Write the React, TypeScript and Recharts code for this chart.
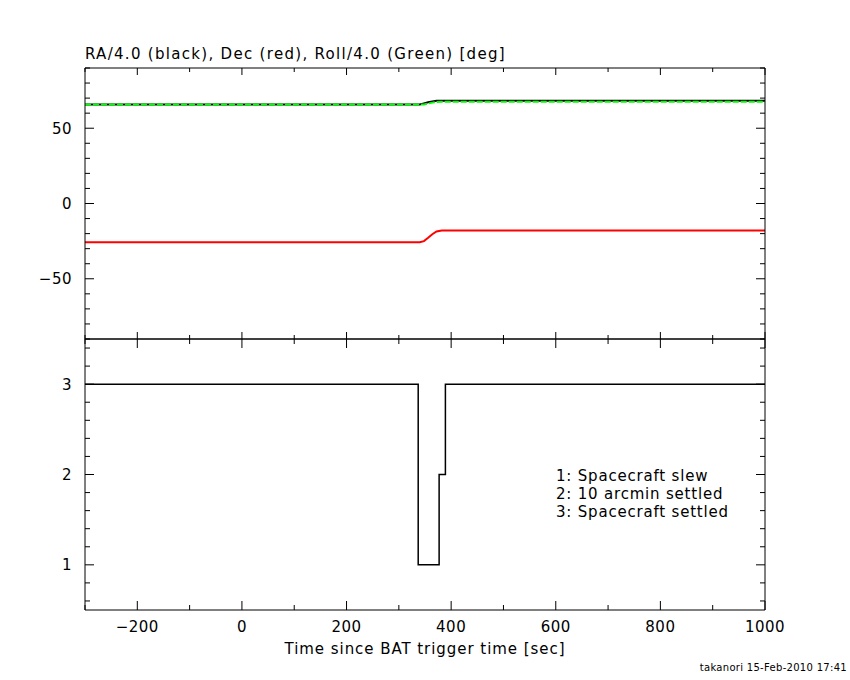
import { Line, LineChart, XAxis, YAxis } from "recharts";

// attitude (top panel): time [sec], RA/4, Dec, Roll/4 [deg]
const topTimes = [-300, 340, 348, 356, 364, 372, 382, 1000];
const raValues = [65.7, 65.7, 66.5, 67.2, 67.8, 68.2, 68.3, 68.3];
const decValues = [-25.7, -25.7, -25.0, -22.8, -20.4, -18.6, -17.9, -17.9];
const rollValues = [65.7, 65.7, 65.8, 66.4, 67.0, 67.4, 67.6, 67.6];

// settle status (bottom panel)
const stateTimes = [-300, 337, 377, 389, 1000];
const stateValues = [3, 1, 2, 3, 3];

const xTicks = [-300, -200, -100, 0, 100, 200, 300, 400, 500, 600, 700, 800, 900, 1000];
const topYTicks = [-90, -80, -70, -60, -50, -40, -30, -20, -10, 0, 10, 20, 30, 40, 50, 60, 70, 80, 90];
const stateYTicks = [0.6, 0.8, 1, 1.2, 1.4, 1.6, 1.8, 2, 2.2, 2.4, 2.6, 2.8, 3, 3.2, 3.4];

const titleText = "RA/4.0 (black), Dec (red), Roll/4.0 (Green) [deg]";
const xTitle = "Time since BAT trigger time [sec]";
const statusNotes = ["1: Spacecraft slew", "2: 10 arcmin settled", "3: Spacecraft settled"];
const footerText = "takanori 15-Feb-2010 17:41";

const FONT = '"DejaVu Sans", sans-serif';

const topData = topTimes.map((t, i) => ({ t, ra: raValues[i], dec: decValues[i], roll: rollValues[i] }));
const stateData = stateTimes.map((t, i) => ({ t, state: stateValues[i] }));

const fmt = (v: number) => (v < 0 ? `\u2212${Math.abs(v)}` : `${v}`);

type Side = "top" | "bottom" | "left" | "right";

// inward pointing tick, optionally with the label outside the frame
function makeTick(side: Side, isMajor: (v: number) => boolean, major: number, minor: number, labels = false) {
  return (props: any) => {
    const { x, y, payload } = props;
    const v = payload.value as number;
    const big = isMajor(v);
    const len = big ? major : minor;
    let x2 = x;
    let y2 = y;
    if (side === "bottom") y2 = y - len;
    if (side === "top") y2 = y + len;
    if (side === "left") x2 = x + len;
    if (side === "right") x2 = x - len;
    return (
      <g>
        <line x1={x} y1={y} x2={x2} y2={y2} stroke="#000" strokeWidth={1} />
        {labels && big && side === "bottom" && (
          <text x={x} y={y + 22} textAnchor="middle" fontSize={15} fontFamily={FONT} fill="#000" letterSpacing={0.5}>
            {fmt(v)}
          </text>
        )}
        {labels && big && side === "left" && (
          <text x={x - 13} y={y + 5.5} textAnchor="end" fontSize={15} fontFamily={FONT} fill="#000" letterSpacing={0.5}>
            {fmt(v)}
          </text>
        )}
      </g>
    );
  };
}

const byX = (v: number) => v % 200 === 0;
const byTopY = (v: number) => v % 50 === 0;
const byState = (v: number) => Number.isInteger(v);

const axisLine = { stroke: "#000", strokeWidth: 1 };

export default function App() {
  return (
    <div style={{ position: "absolute", left: 0, top: 0, width: 850, height: 680, background: "#fff", fontFamily: FONT }}>
      <div style={{ position: "absolute", left: 0, top: 0 }}>
        <LineChart width={850} height={340} data={topData} margin={{ top: 68, right: 85, bottom: 1, left: 25 }}>
          <XAxis xAxisId="b" dataKey="t" type="number" domain={[-300, 1000]} allowDataOverflow ticks={xTicks} interval={0}
            orientation="bottom" mirror height={1} tickSize={0} tickMargin={0} tickLine={false} axisLine={axisLine}
            tick={makeTick("bottom", byX, 7, 4)} />
          <XAxis xAxisId="t" dataKey="t" type="number" domain={[-300, 1000]} allowDataOverflow ticks={xTicks} interval={0}
            orientation="top" mirror height={1} tickSize={0} tickMargin={0} tickLine={false} axisLine={axisLine}
            tick={makeTick("top", byX, 7, 4)} />
          <YAxis yAxisId="l" type="number" domain={[-90, 90]} allowDataOverflow ticks={topYTicks} interval={0}
            orientation="left" width={60} tickSize={0} tickMargin={0} tickLine={false} axisLine={axisLine}
            tick={makeTick("left", byTopY, 9, 5, true)} />
          <YAxis yAxisId="r" type="number" domain={[-90, 90]} allowDataOverflow ticks={topYTicks} interval={0}
            orientation="right" mirror width={1} tickSize={0} tickMargin={0} tickLine={false} axisLine={axisLine}
            tick={makeTick("right", byTopY, 9, 5)} />
          <Line xAxisId="b" yAxisId="l" type="linear" dataKey="ra" stroke="#000000" strokeWidth={2} dot={false} isAnimationActive={false} />
          <Line xAxisId="b" yAxisId="l" type="linear" dataKey="roll" stroke="#00ff00" strokeWidth={2} strokeDasharray="6 2" dot={false} isAnimationActive={false} />
          <Line xAxisId="b" yAxisId="l" type="linear" dataKey="dec" stroke="#ff0000" strokeWidth={2} dot={false} isAnimationActive={false} />
        </LineChart>
      </div>

      <div style={{ position: "absolute", left: 0, top: 0 }}>
        <LineChart width={850} height={680} data={stateData} margin={{ top: 339, right: 85, bottom: 26, left: 25 }}>
          <XAxis xAxisId="b" dataKey="t" type="number" domain={[-300, 1000]} allowDataOverflow ticks={xTicks} interval={0}
            orientation="bottom" height={44} tickSize={0} tickMargin={0} tickLine={false} axisLine={axisLine}
            tick={makeTick("bottom", byX, 9, 5, true)}
            label={{ value: xTitle, position: "insideBottom", offset: 0, fontSize: 15, fontFamily: FONT, fill: "#000", letterSpacing: 0.95 }} />
          <XAxis xAxisId="t" dataKey="t" type="number" domain={[-300, 1000]} allowDataOverflow ticks={xTicks} interval={0}
            orientation="top" mirror height={1} tickSize={0} tickMargin={0} tickLine={false} axisLine={axisLine}
            tick={makeTick("top", byX, 9, 5)} />
          <YAxis yAxisId="l" type="number" domain={[0.5, 3.5]} allowDataOverflow ticks={stateYTicks} interval={0}
            orientation="left" width={60} tickSize={0} tickMargin={0} tickLine={false} axisLine={axisLine}
            tick={makeTick("left", byState, 9, 5, true)} />
          <YAxis yAxisId="r" type="number" domain={[0.5, 3.5]} allowDataOverflow ticks={stateYTicks} interval={0}
            orientation="right" mirror width={1} tickSize={0} tickMargin={0} tickLine={false} axisLine={axisLine}
            tick={makeTick("right", byState, 9, 5)} />
          <Line xAxisId="b" yAxisId="l" type="stepAfter" dataKey="state" stroke="#000000" strokeWidth={1.5} dot={false} isAnimationActive={false} />
        </LineChart>
      </div>

      <div style={{ position: "absolute", left: 85, top: 45, fontSize: 15, lineHeight: "18px", letterSpacing: 1.3, whiteSpace: "nowrap" }}>{titleText}</div>
      <div style={{ position: "absolute", left: 556, top: 467, fontSize: 15, lineHeight: "18px", letterSpacing: 0.8, whiteSpace: "nowrap" }}>
        {statusNotes.map((s) => (
          <div key={s}>{s}</div>
        ))}
      </div>
      <div style={{ position: "absolute", right: 3, top: 661, fontSize: 10, lineHeight: "14px", letterSpacing: 0.3, whiteSpace: "nowrap" }}>{footerText}</div>
    </div>
  );
}
